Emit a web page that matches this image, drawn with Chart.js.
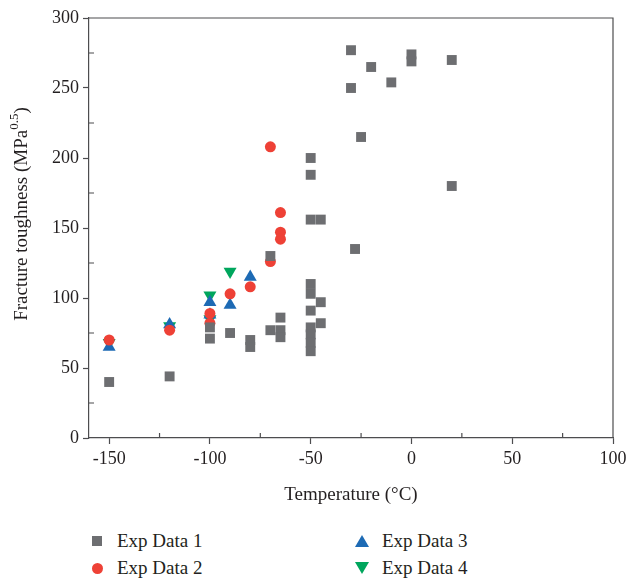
<!DOCTYPE html>
<html>
<head>
<meta charset="utf-8">
<script src="https://cdn.jsdelivr.net/npm/chart.js@4"></script>
<style>
  body { margin: 0; background: #fff; }
  #wrap { position: relative; width: 626px; height: 520px; }
  #legend { position: absolute; left: 0; top: 526px; width: 626px; height: 56px;
    font-family: "Liberation Serif", "DejaVu Serif", serif; font-size: 19px; color: #231f20; }
  .item { position: absolute; display: flex; align-items: center; height: 24px; }
  .item span.mk { width: 20px; display: inline-flex; justify-content: center; margin-right: 10px; }
  .sq { width: 10px; height: 10px; background: #6d6e71; }
  .ci { width: 11px; height: 11px; border-radius: 50%; background: #ee4136; }
  .up { width: 0; height: 0; border-left: 7px solid transparent; border-right: 7px solid transparent; border-bottom: 12px solid #1d6ab4; }
  .dn { width: 0; height: 0; border-left: 7px solid transparent; border-right: 7px solid transparent; border-top: 12px solid #00a65d; }
</style>
</head>
<body>
<div id="wrap"><canvas id="toughChart"></canvas></div>
<div id="legend">
  <div class="item" style="left:87px; top:3px"><span class="mk"><i class="sq"></i></span>Exp Data 1</div>
  <div class="item" style="left:87px; top:30px"><span class="mk"><i class="ci"></i></span>Exp Data 2</div>
  <div class="item" style="left:352px; top:3px"><span class="mk"><i class="up"></i></span>Exp Data 3</div>
  <div class="item" style="left:352px; top:30px"><span class="mk"><i class="dn"></i></span>Exp Data 4</div>
</div>
<script>
// temperatures (°C) and fracture toughness for each test set
const temp1 = [-150, -120, -100, -100, -90, -80, -80, -70, -70, -65, -65, -65,
  -50, -50, -50, -50, -50, -50, -50, -50, -50, -50, -45, -45, -45,
  -30, -30, -28, -25, -20, -10, 0, 0, 20, 20];
const tough1 = [40, 44, 71, 79, 75, 70, 65, 77, 130, 86, 77, 72,
  200, 188, 156, 110, 103, 91, 79, 74, 68, 62, 156, 97, 82,
  277, 250, 135, 215, 265, 254, 274, 269, 270, 180];

const temp2 = [-150, -120, -100, -100, -90, -80, -70, -70, -65, -65, -65];
const tough2 = [70, 77, 82, 89, 103, 108, 126, 208, 161, 147, 142];

const temp3 = [-150, -120, -100, -100, -90, -80];
const tough3 = [65, 81, 97, 88, 95, 115];

const temp4 = [-150, -120, -100, -100, -90];
const tough4 = [68, 80, 102, 85, 119];

const seriesNames = ['Exp Data 1', 'Exp Data 2', 'Exp Data 3', 'Exp Data 4'];
const xTicks = [-150, -100, -50, 0, 50, 100];
const yTicks = [0, 50, 100, 150, 200, 250, 300];

const ink = '#231f20';
const axisCol = '#4d4d4f';
const serif = '"Liberation Serif", "DejaVu Serif", serif';

function pts(xs, ys) {
  return xs.map((x, i) => ({ x: x, y: ys[i] }));
}

// box around the plot, inward minor ticks and the y title with its superscript
const frame = {
  id: 'frame',
  afterDraw(chart) {
    const { ctx, chartArea: a, scales } = chart;
    ctx.save();
    ctx.strokeStyle = axisCol;
    ctx.lineWidth = 1.2;
    ctx.beginPath();
    ctx.moveTo(a.left, a.top); ctx.lineTo(a.right, a.top); ctx.lineTo(a.right, a.bottom);
    ctx.stroke();
    ctx.beginPath();
    for (let v = -125; v < 100; v += 50) {
      const px = scales.x.getPixelForValue(v);
      ctx.moveTo(px, a.bottom); ctx.lineTo(px, a.bottom - 5);
    }
    for (let v = 25; v < 300; v += 50) {
      const py = scales.y.getPixelForValue(v);
      ctx.moveTo(a.left, py); ctx.lineTo(a.left + 5, py);
    }
    ctx.stroke();

    ctx.translate(22, 214);
    ctx.rotate(-Math.PI / 2);
    ctx.fillStyle = ink;
    ctx.textBaseline = 'middle';
    const main = 'Fracture toughness (MPa';
    const sup = '0.5';
    ctx.font = '19px ' + serif;
    const w1 = ctx.measureText(main).width;
    ctx.font = '13px ' + serif;
    const w2 = ctx.measureText(sup).width;
    ctx.font = '19px ' + serif;
    const w3 = ctx.measureText(')').width;
    let x0 = -(w1 + w2 + w3) / 2;
    ctx.fillText(main, x0, 0);
    ctx.font = '13px ' + serif;
    ctx.fillText(sup, x0 + w1, -7);
    ctx.font = '19px ' + serif;
    ctx.fillText(')', x0 + w1 + w2, 0);
    ctx.restore();
  }
};

new Chart(document.getElementById('toughChart'), {
  type: 'scatter',
  data: {
    datasets: [
      { label: seriesNames[0], data: pts(temp1, tough1), pointStyle: 'rect', pointRadius: 7,
        backgroundColor: '#6d6e71', borderColor: '#6d6e71', borderWidth: 0 },
      { label: seriesNames[1], data: pts(temp2, tough2), pointStyle: 'circle', pointRadius: 5.5,
        backgroundColor: '#ee4136', borderColor: '#ee4136', borderWidth: 0 },
      { label: seriesNames[2], data: pts(temp3, tough3), pointStyle: 'triangle', pointRadius: 7.5,
        backgroundColor: '#1d6ab4', borderColor: '#1d6ab4', borderWidth: 0 },
      { label: seriesNames[3], data: pts(temp4, tough4), pointStyle: 'triangle', rotation: 180, pointRadius: 7.5,
        backgroundColor: '#00a65d', borderColor: '#00a65d', borderWidth: 0 }
    ]
  },
  options: {
    responsive: true,
    maintainAspectRatio: false,
    animation: false,
    layout: { padding: { left: 0, right: 13, top: 18, bottom: 0 } },
    plugins: {
      legend: { display: false },
      tooltip: { enabled: false }
    },
    scales: {
      x: {
        type: 'linear',
        min: -160,
        max: 100,
        afterBuildTicks: s => { s.ticks = xTicks.map(v => ({ value: v })); },
        afterFit: s => { s.height = 82; s.paddingLeft = 0; s.paddingRight = 0; },
        grid: { drawOnChartArea: false, color: axisCol, tickLength: 6, tickWidth: 1.2 },
        border: { color: axisCol, width: 1.2 },
        ticks: { color: ink, font: { family: serif, size: 18 }, padding: 4, maxRotation: 0 },
        title: { display: true, text: 'Temperature (°C)', color: ink,
          font: { family: serif, size: 19 }, padding: { top: 0, bottom: 14 } }
      },
      y: {
        type: 'linear',
        min: 0,
        max: 300,
        afterBuildTicks: s => { s.ticks = yTicks.map(v => ({ value: v })); },
        afterFit: s => { s.width = 89; s.paddingTop = 0; s.paddingBottom = 0; },
        grid: { drawOnChartArea: false, color: axisCol, tickLength: 6, tickWidth: 1.2 },
        border: { color: axisCol, width: 1.2 },
        ticks: { color: ink, font: { family: serif, size: 18 }, padding: 4 }
      }
    }
  },
  plugins: [frame]
});
</script>
</body>
</html>
